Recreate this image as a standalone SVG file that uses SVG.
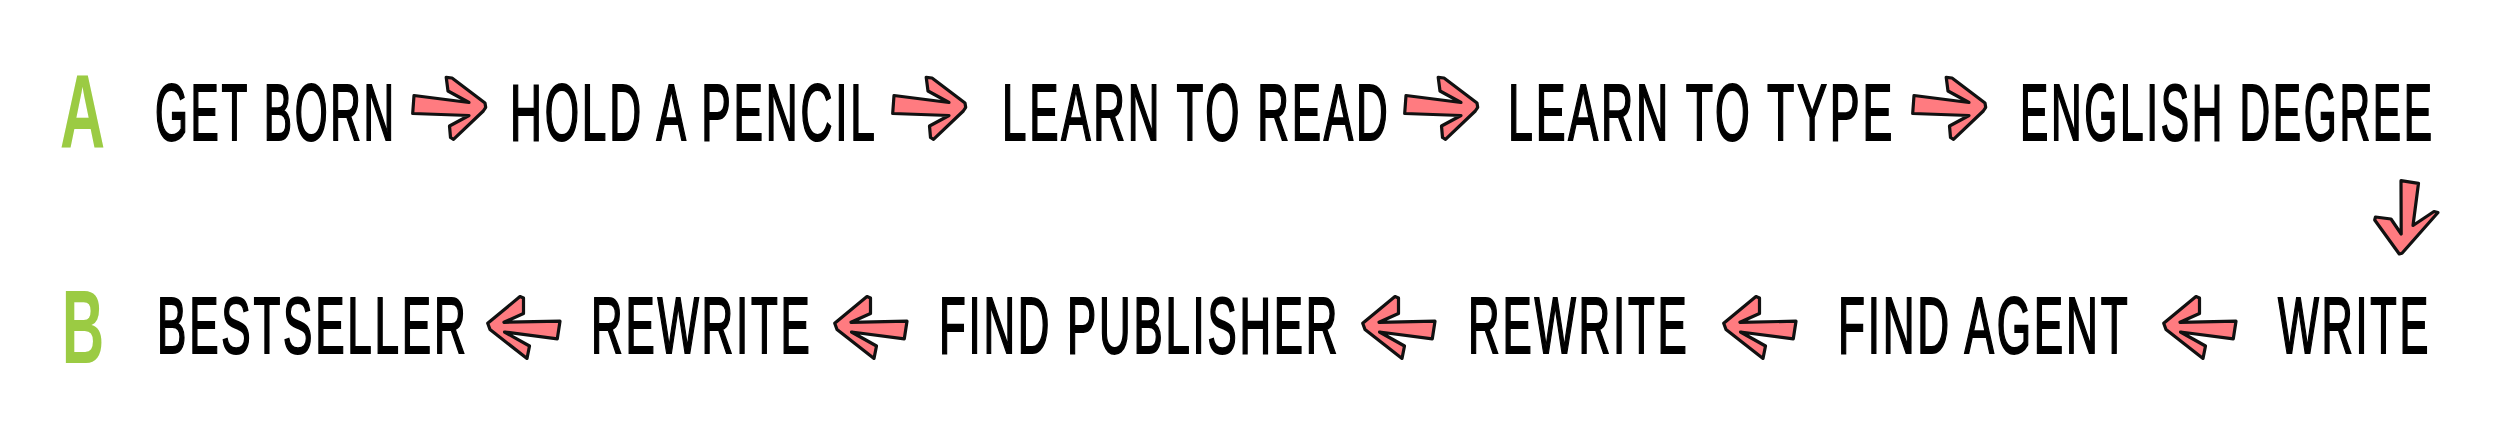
<svg xmlns="http://www.w3.org/2000/svg" xmlns:xlink="http://www.w3.org/1999/xlink" width="2500" height="442" viewBox="0 0 2500 442">
<style>
.lbl{font-family:"Liberation Sans",Arial,sans-serif;font-size:79px;letter-spacing:5px;fill:#000;stroke:#000;stroke-width:1.6px;vector-effect:non-scaling-stroke;}
.row{font-family:"Liberation Sans",Arial,sans-serif;font-weight:bold;font-size:104px;fill:#9bcb43;}
.arr{fill:#ff7b80;stroke:#111;stroke-width:3.2;stroke-linejoin:round;}
</style>
<defs>
<path id="arrR" class="arr" d="M1,18.5 L56,25.5 L35,14 L33.2,0.3 L39,1 L72,26 L72.7,30.3 L70.3,34 L40.5,62.3 L37.5,60.5 L36.5,49 L56,38.5 L-0.3,36.5 Z"/>
<path id="arrL" class="arr" d="M0.7,27.3 L33,0.5 L36.5,2 L36.5,17.5 L17,26.3 L73,25.2 L70.3,42.8 L17.5,36 L42.5,50 L40,62.5 L3,33.5 Z"/>
<path id="arrD" class="arr" d="M26,0.7 L43.5,3.3 L38,45.5 L59,31.5 L63,32.5 L27,73.3 L24.3,74 L-0.3,40 L0.5,37 L16,39 L26.2,54 Z"/>
</defs>
<rect width="2500" height="442" fill="#fff"/>
<g id="row-labels">
<text id="label-A" class="row" x="60" y="147" textLength="45" lengthAdjust="spacingAndGlyphs">A</text>
<text id="label-B" class="row" x="62" y="363" textLength="42" lengthAdjust="spacingAndGlyphs">B</text>
</g>
<g id="node-get-born"><text class="lbl" transform="translate(155,140) scale(0.536,1)">GET BORN</text></g>
<g id="node-hold-a-pencil"><text class="lbl" transform="translate(510,140) scale(0.559,1)">HOLD A PENCIL</text></g>
<g id="node-learn-to-read"><text class="lbl" transform="translate(1002,140) scale(0.556,1)">LEARN TO READ</text></g>
<g id="node-learn-to-type"><text class="lbl" transform="translate(1508,140) scale(0.566,1)">LEARN TO TYPE</text></g>
<g id="node-english-degree"><text class="lbl" transform="translate(2020,140) scale(0.537,1)">ENGLISH DEGREE</text></g>
<g id="node-write"><text class="lbl" transform="translate(2278,353) scale(0.548,1)">WRITE</text></g>
<g id="node-find-agent"><text class="lbl" transform="translate(1838,353) scale(0.558,1)">FIND AGENT</text></g>
<g id="node-rewrite-2"><text class="lbl" transform="translate(1468,353) scale(0.555,1)">REWRITE</text></g>
<g id="node-find-publisher"><text class="lbl" transform="translate(939,353) scale(0.554,1)">FIND PUBLISHER</text></g>
<g id="node-rewrite-1"><text class="lbl" transform="translate(591,353) scale(0.555,1)">REWRITE</text></g>
<g id="node-bestseller"><text class="lbl" transform="translate(157,353) scale(0.557,1)">BESTSELLER</text></g>
<g id="connectors">
<use xlink:href="#arrR" href="#arrR" x="413" y="77"/>
<use xlink:href="#arrR" href="#arrR" x="893" y="77"/>
<use xlink:href="#arrR" href="#arrR" x="1405" y="77"/>
<use xlink:href="#arrR" href="#arrR" x="1913" y="77"/>
<use xlink:href="#arrD" href="#arrD" x="2375" y="180"/>
<use xlink:href="#arrL" href="#arrL" x="2163" y="296"/>
<use xlink:href="#arrL" href="#arrL" x="1723" y="296"/>
<use xlink:href="#arrL" href="#arrL" x="1362" y="296"/>
<use xlink:href="#arrL" href="#arrL" x="834" y="296"/>
<use xlink:href="#arrL" href="#arrL" x="487" y="296"/>
</g>
</svg>
